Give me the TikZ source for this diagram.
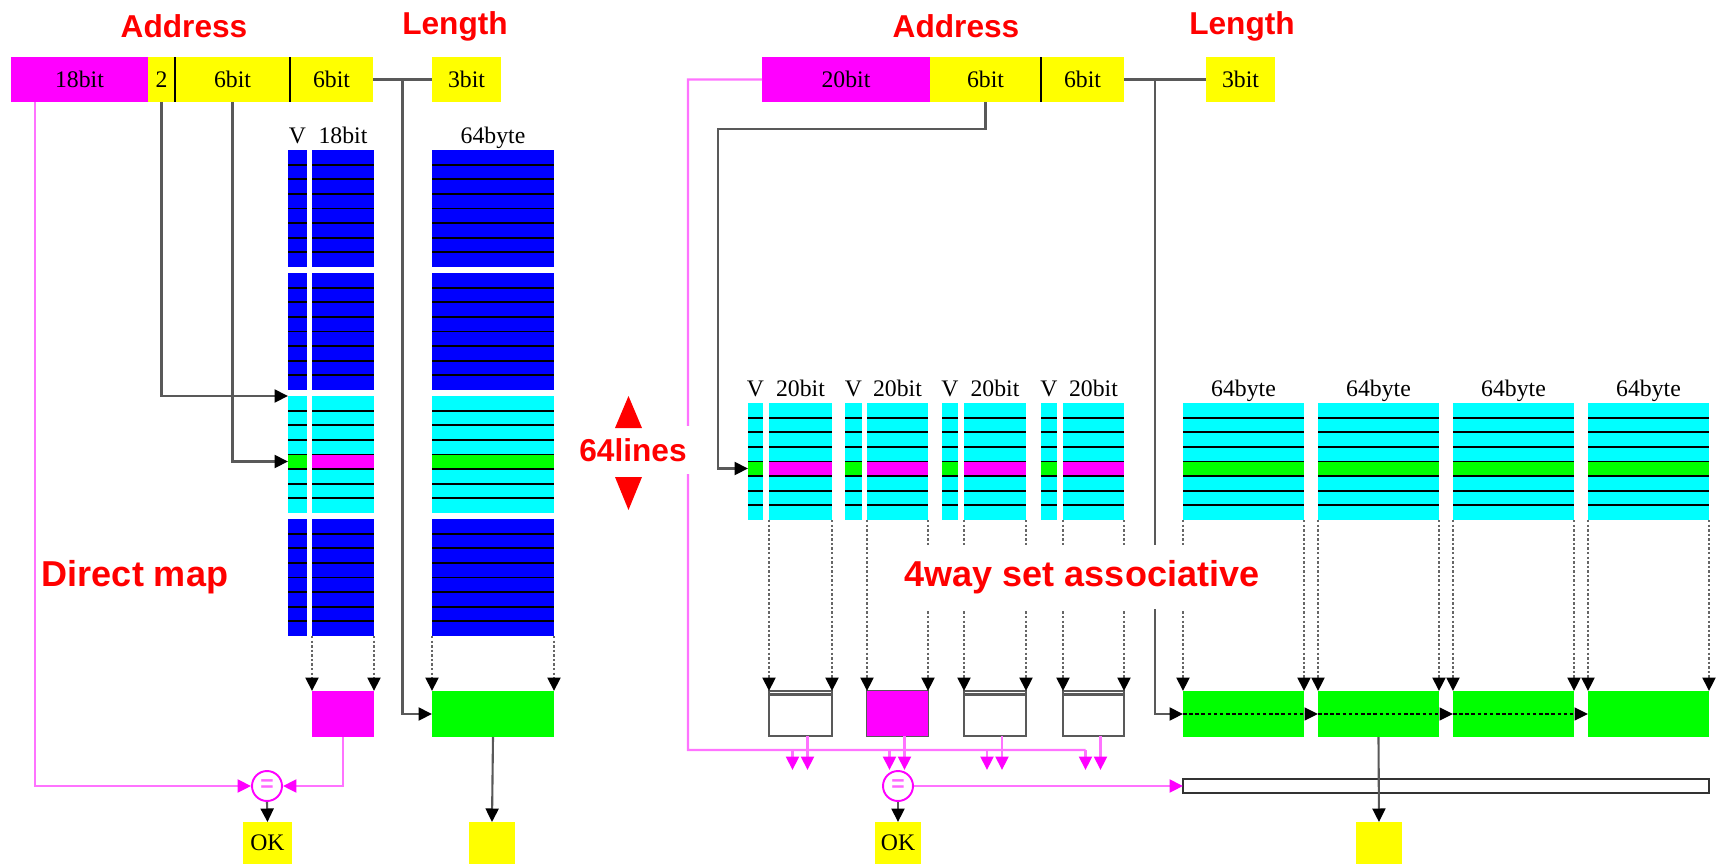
\documentclass[tikz,border=0pt]{standalone}
\usepackage{fontspec}
\setmainfont{Liberation Serif}
\newfontfamily\arial{Liberation Sans}
\usetikzlibrary{arrows.meta,calc,positioning}
\definecolor{mag}{RGB}{255,0,255}
\definecolor{cyn}{RGB}{0,255,255}
\definecolor{grn}{RGB}{0,255,0}
\definecolor{yel}{RGB}{255,255,0}
\definecolor{blu}{RGB}{0,0,255}
\definecolor{rd}{RGB}{255,0,0}
\tikzset{
  blk/.style={rectangle,inner sep=0pt,outer sep=0pt,font=\fontsize{13.5}{15}\selectfont},
  lbl/.style={inner sep=0pt,font=\fontsize{13.5}{15}\selectfont},
  ttl/.style={text=rd,inner sep=1pt,font=\arial\bfseries\fontsize{18}{20}\selectfont},
  big/.style={ttl,font=\arial\bfseries\fontsize{20.5}{22}\selectfont,fill=white,inner xsep=1.2mm,inner ysep=3mm},
  sep/.style={draw=black,line width=1pt},
  rowline/.style={draw=black,line width=1.1pt},
  gline/.style={draw=black!65,line width=1.2pt},
  arr/.style={gline,-{Triangle[length=2.7mm,width=2.6mm,color=black]}},
  dotarr/.style={arr,draw=black!60,dash pattern=on 1.4pt off 1.2pt},
  darr/.style={arr,draw=black,line width=0.9pt,dash pattern=on 2pt off 1.5pt},
  pline/.style={draw=mag!55,line width=1.2pt},
  parr/.style={pline,-{Triangle[length=2.7mm,width=2.6mm,color=mag]}},
  eqc/.style={circle,draw=mag,line width=1.1pt,fill=white,minimum size=6mm,inner sep=0pt,text=mag!60,font=\arial\bfseries\fontsize{13}{14}\selectfont},
  cmpbox/.style={draw=black!65,line width=1.2pt,fill=white},
}
\newcommand{\field}[7]{\node[blk,#6,minimum width={(#4-#2)*0.2mm},minimum height={(#5-#3)*0.2mm}] (#1) at ({(#2+#4)/2},{(#3+#5)/2}) {#7};}
\newcommand{\waycol}[6]{%
  \field{#1}{#2}{#3}{#4}{#3+117}{fill=#5}{}
  \path[fill=#6] (#2,#3+58.5) rectangle (#4,#3+73.1);
  \foreach \k in {1,...,7}{\draw[rowline] (#2,#3+\k*14.625) -- (#4,#3+\k*14.625);}
}

\begin{document}
\begin{tikzpicture}[x=0.2mm,y=-0.2mm]
\useasboundingbox (0,0) rectangle (1719,864);

% direct map
\field{f18}{11}{57}{148}{102}{fill=mag}{18bit}
\field{f2}{148}{57}{175}{102}{fill=yel}{2}
\field{f6a}{175}{57}{290}{102}{fill=yel}{6bit}
\field{f6b}{290}{57}{373}{102}{fill=yel}{6bit}
\field{f3l}{432}{57}{501}{102}{fill=yel}{3bit}
\draw[sep] (f2.north east) -- (f2.south east);
\draw[sep] (f6a.north east) -- (f6a.south east);

\foreach \g/\y in {1/150,2/273,4/519}{
  \waycol{dV\g}{288}{\y}{307}{blu}{none}
  \waycol{dT\g}{312}{\y}{374}{blu}{none}
  \waycol{dD\g}{432}{\y}{554}{blu}{none}
}
\waycol{dV3}{288}{396}{307}{cyn}{grn}
\waycol{dT3}{312}{396}{374}{cyn}{mag}
\waycol{dD3}{432}{396}{554}{cyn}{grn}
\node[lbl,anchor=base] (lV) at ([yshift=1.4mm]dV1.north) {V};
\node[lbl,anchor=base] (lT) at ([yshift=1.4mm]dT1.north) {18bit};
\node[lbl,anchor=base] (lD) at ([yshift=1.4mm]dD1.north) {64byte};

\field{dM}{312}{691}{374}{737}{fill=mag}{}
\field{dG}{432}{691}{554}{737}{fill=grn}{}
\node[eqc] (eq1) at (267,786) {=};
\field{ok1}{243}{822}{292}{864}{fill=yel}{OK}
\field{out1}{469}{822}{515}{864}{fill=yel}{}

\draw[parr] ($(f18.south west)+(24,0)$) |- (eq1.west);
\draw[arr] (f2.south) |- (dV3.north west);
\draw[arr] (f6a.south) |- ($(dV3.west)+(0,7)$);
\draw[gline] (f6b.east) -- (f3l.west);
\coordinate (jL) at ($(f6b.east)!0.5!(f3l.west)$);
\draw[arr] (jL) |- (dG.west);
\draw[dotarr] (dT4.south west) -- (dM.north west);
\draw[dotarr] (dT4.south east) -- (dM.north east);
\draw[dotarr] (dD4.south west) -- (dG.north west);
\draw[dotarr] (dD4.south east) -- (dG.north east);
\draw[parr] (dM.south) |- (eq1.east);
\draw[arr] (eq1.south) -- (ok1.north);
\draw[arr] (dG.south) -- (out1.north);

% 4way set associative
\field{f20}{762}{57}{930}{102}{fill=mag}{20bit}
\field{f6c}{930}{57}{1041}{102}{fill=yel}{6bit}
\field{f6d}{1041}{57}{1124}{102}{fill=yel}{6bit}
\field{f3r}{1206}{57}{1275}{102}{fill=yel}{3bit}
\draw[sep] (f6c.north east) -- (f6c.south east);

\foreach \i/\va/\vb/\ta/\tb in {1/748/763/769/832,2/845/862/867/928,3/942/958/964/1026,4/1041/1057/1063/1124}{
  \waycol{sV\i}{\va}{403}{\vb}{cyn}{grn}
  \waycol{sT\i}{\ta}{403}{\tb}{cyn}{mag}
  \node[lbl,anchor=base] (lsV\i) at ([yshift=1.4mm]sV\i.north) {V};
  \node[lbl,anchor=base] (lsT\i) at ([yshift=1.4mm]sT\i.north) {20bit};
  \field{cmp\i}{\ta}{691}{\tb}{736}{cmpbox}{}
}
\field{cmp2}{867}{691}{928}{736}{fill=mag}{}
\foreach \i in {1,3,4}{\draw[gline] ([yshift=-0.7mm]cmp\i.north west) -- ([yshift=-0.7mm]cmp\i.north east);}

\foreach \j/\a/\b in {1/1183/1304,2/1318/1439,3/1453/1574,4/1588/1709}{
  \waycol{sD\j}{\a}{403}{\b}{cyn}{grn}
  \node[lbl,anchor=base] (lsD\j) at ([yshift=1.4mm]sD\j.north) {64byte};
  \field{sG\j}{\a}{691}{\b}{737}{fill=grn}{}
}

\node[eqc] (eq2) at (898,786) {=};
\field{ok2}{875}{822}{921}{864}{fill=yel}{OK}
\field{wide}{1183}{779}{1709}{793}{draw=black!80,line width=1.1pt,fill=white}{}
\field{out2}{1356}{822}{1402}{864}{fill=yel}{}

\coordinate (tt) at (718,129);
\draw[arr] (f6c.south) |- (tt) |- ($(sV1.west)+(0,7)$);
\draw[gline] (f6d.east) -- (f3r.west);
\coordinate (jR) at ($(f6d.east)!0.38!(f3r.west)$);
\draw[arr] (jR) |- (sG1.west);
\draw[darr] (sG1.west) -- (sG2.west);
\draw[darr] (sG2.west) -- (sG3.west);
\draw[darr] (sG3.west) -- (sG4.west);

\coordinate (pw) at (688,750);
\coordinate (pe) at ($(cmp4.south)+(-8,14)$);
\draw[pline] (f20.west) -| (pw) -- (pe);
\foreach \i in {1,...,4}{
  \draw[dotarr] (sT\i.south west) -- (cmp\i.north west);
  \draw[dotarr] (sT\i.south east) -- (cmp\i.north east);
  \draw[dotarr] (sD\i.south west) -- (sG\i.north west);
  \draw[dotarr] (sD\i.south east) -- (sG\i.north east);
  \draw[parr] ($(cmp\i.south)+(-8,14)$) -- ++(0,20);
  \draw[parr] ($(cmp\i.south)+(7,0)$) -- ++(0,34);
}
\draw[parr] (eq2.east) -- (wide.west);
\draw[arr] (eq2.south) -- (ok2.north);
\draw[arr] (sG2.south) -- (out2.north);

% labels
\node[ttl] (adrL) at (184,26) {Address};
\node[ttl] (lenL) at (455,26) {Length};
\node[ttl] (adrR) at (956,26) {Address};
\node[ttl] (lenR) at (1242,26) {Length};
\node[big] (dmap) at (135,577) {Direct map};
\node[big] (assoc) at (1082,577) {4way set associative};
\node[ttl,fill=white,inner xsep=1mm,inner ysep=2.4mm] (nlines) at (633,450) {64lines};
\fill[rd] (615,428) -- (642,428) -- (628.5,396) -- cycle;
\fill[rd] (615,477) -- (642,477) -- (628.5,510) -- cycle;
\end{tikzpicture}
\end{document}
